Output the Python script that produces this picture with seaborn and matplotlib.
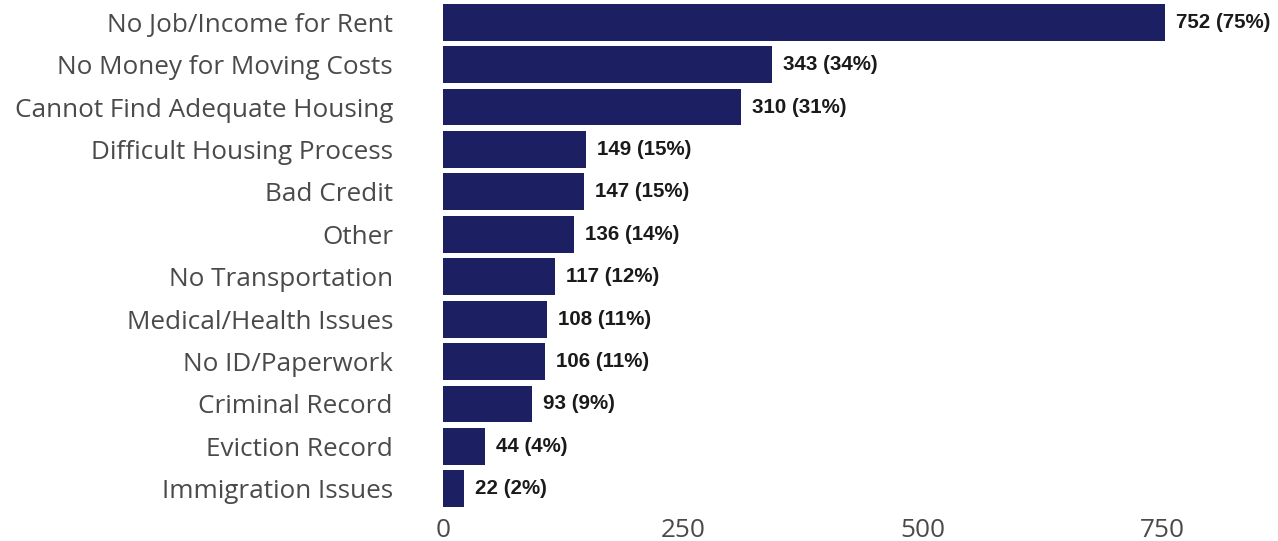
import matplotlib
matplotlib.use("Agg")
import matplotlib.pyplot as plt
import seaborn as sns
import pandas as pd

# Barriers to obtaining housing (respondent counts and share)
categories = [
    "No Job/Income for Rent",
    "No Money for Moving Costs",
    "Cannot Find Adequate Housing",
    "Difficult Housing Process",
    "Bad Credit",
    "Other",
    "No Transportation",
    "Medical/Health Issues",
    "No ID/Paperwork",
    "Criminal Record",
    "Eviction Record",
    "Immigration Issues",
]
counts = [752, 343, 310, 149, 147, 136, 117, 108, 106, 93, 44, 22]
percents = [75, 34, 31, 15, 15, 14, 12, 11, 11, 9, 4, 2]
x_ticks = [0, 250, 500, 750]

df = pd.DataFrame({"reason": categories, "count": counts})

sns.set_theme(style="white")
plt.rcParams["font.family"] = ["Open Sans", "DejaVu Sans"]

fig = plt.figure(figsize=(12.78, 5.41), dpi=100)
ax = fig.add_axes([443 / 1278, 31 / 541, 835 / 1278, 509 / 541])

sns.barplot(data=df, y="reason", x="count", orient="h", color="#1c2062",
            saturation=1, width=0.87, linewidth=0, ax=ax)

labels = [f"{c} ({p}%)" for c, p in zip(counts, percents)]
ax.bar_label(ax.containers[0], labels=labels, padding=8,
             fontsize=14.8, fontweight="bold", color="#1a1a1a",
             family="Liberation Sans")

ax.set_xlim(0, 870)
ax.set_ylim(11.5, -0.5)
ax.set_xticks(x_ticks)
ax.set_xlabel("")
ax.set_ylabel("")
for s in ax.spines.values():
    s.set_visible(False)
ax.grid(False)
ax.tick_params(axis="y", length=0, pad=36, labelsize=18.8, labelcolor="#4a4a4a")
ax.tick_params(axis="x", length=0, pad=6, labelsize=18.8, labelcolor="#4a4a4a")

fig.savefig("out.png", dpi=100, facecolor="white")
